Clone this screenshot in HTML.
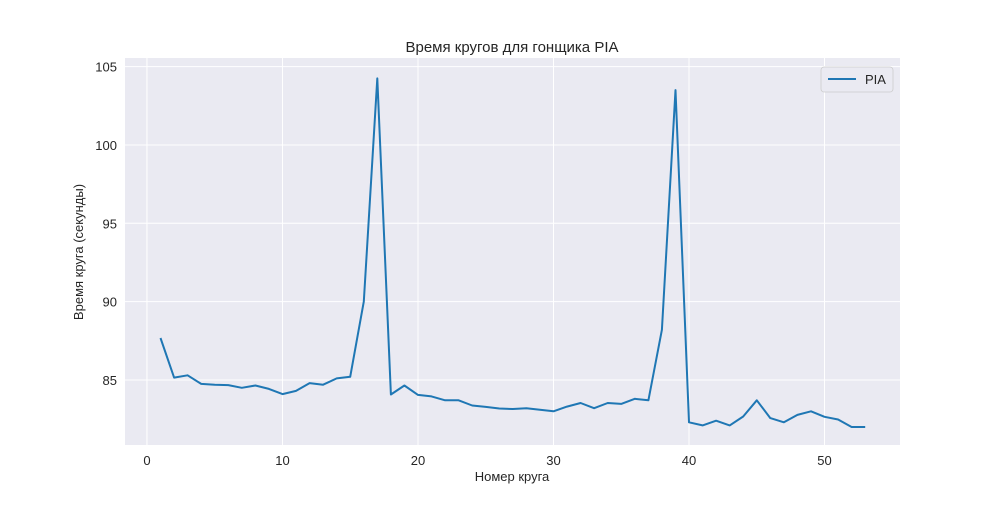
<!DOCTYPE html>
<html><head><meta charset="utf-8"><style>
body{margin:0;background:#fff;}
svg text{font-family:"Liberation Sans","DejaVu Sans",sans-serif;fill:#262626;}
</style></head><body>
<svg id="chart" width="1000" height="500" xmlns="http://www.w3.org/2000/svg">
<rect x="125" y="58" width="775" height="387" fill="#eaeaf2"/>
<g id="grid"></g>
<g id="ticks"></g>
<path id="line" fill="none" stroke="#1f77b4" stroke-width="2" stroke-linejoin="round"/>
<text x="512" y="52" text-anchor="middle" font-size="15">Время кругов для гонщика PIA</text>
<text x="512" y="481" text-anchor="middle" font-size="13">Номер круга</text>
<text transform="translate(83,252) rotate(-90)" text-anchor="middle" font-size="13">Время круга (секунды)</text>
<g>
<rect x="821" y="67" width="72" height="25" rx="3" fill="#eaeaf2" stroke="#ccc" stroke-width="0.8"/>
<line x1="828" y1="79" x2="856" y2="79" stroke="#1f77b4" stroke-width="2"/>
<text x="865" y="84" font-size="13">PIA</text>
</g>
</svg>
<script>
const laps=[];for(let i=1;i<=53;i++)laps.push(i);
const times=[87.68,85.15,85.3,84.75,84.7,84.67,84.5,84.65,84.43,84.1,84.3,84.8,84.7,85.1,85.2,90.0,104.25,84.07,84.65,84.05,83.95,83.7,83.7,83.37,83.28,83.18,83.15,83.2,83.1,83.0,83.3,83.53,83.2,83.53,83.47,83.8,83.7,88.2,103.5,82.3,82.1,82.4,82.1,82.67,83.7,82.57,82.3,82.77,83.0,82.65,82.48,82.0,82.0];
const xTicks=[0,10,20,30,40,50];
const yTicks=[85,90,95,100,105];
const X0=125,X1=900,Y0=445,Y1=58,xmin=-1.62,xmax=55.57,ymin=80.85,ymax=105.55;
const sx=v=>X0+(v-xmin)/(xmax-xmin)*(X1-X0);
const sy=v=>Y0-(v-ymin)/(ymax-ymin)*(Y0-Y1);
const NS="http://www.w3.org/2000/svg";
const grid=document.getElementById('grid'),ticks=document.getElementById('ticks');
xTicks.forEach(t=>{
 const l=document.createElementNS(NS,'line');
 l.setAttribute('x1',sx(t));l.setAttribute('x2',sx(t));l.setAttribute('y1',Y1);l.setAttribute('y2',Y0);
 l.setAttribute('stroke','#fff');l.setAttribute('stroke-width','1');
 
 
 grid.appendChild(l);
 const tx=document.createElementNS(NS,'text');
 tx.setAttribute('x',sx(t));tx.setAttribute('y',Y0+20);tx.setAttribute('text-anchor','middle');tx.setAttribute('font-size','13');
 tx.textContent=t;
 
 
 ticks.appendChild(tx);
});
yTicks.forEach(t=>{
 const l=document.createElementNS(NS,'line');
 l.setAttribute('x1',X0);l.setAttribute('x2',X1);l.setAttribute('y1',sy(t));l.setAttribute('y2',sy(t));
 l.setAttribute('stroke','#fff');l.setAttribute('stroke-width','1');
 
 
 grid.appendChild(l);
 const tx=document.createElementNS(NS,'text');
 tx.setAttribute('x',X0-8);tx.setAttribute('y',sy(t)+5);tx.setAttribute('text-anchor','end');tx.setAttribute('font-size','13');
 tx.textContent=t;
 
 
 ticks.appendChild(tx);
});
document.getElementById('line').setAttribute('d',laps.map((l,i)=>(i?'L':'M')+sx(l).toFixed(1)+','+sy(times[i]).toFixed(1)).join(''));
</script>
</body></html>
